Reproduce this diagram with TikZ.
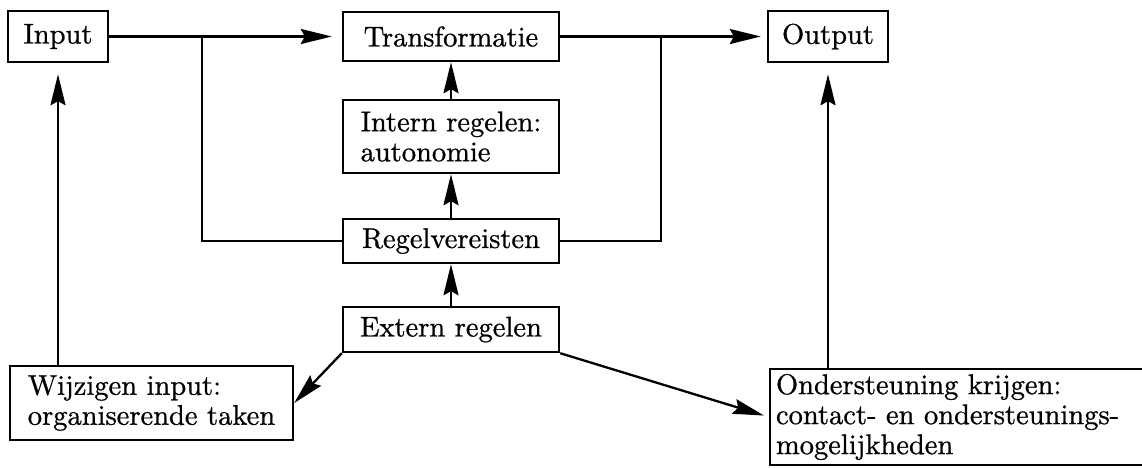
\documentclass[tikz,border=0pt]{standalone}
\usepackage{fontspec}
\setmainfont{lmroman10-regular}[Extension=.otf, FakeBold=0.8]
\usetikzlibrary{arrows.meta,calc}

\begin{document}
\begin{tikzpicture}[x=1pt, y=-1pt,
  arrow/.style={-{Stealth[length=31pt, width=15pt, inset=4pt]}, line width=2.3pt},
  box/.style={draw, line width=2.4pt, inner sep=0pt, align=left, font=\fontsize{28.5}{30}\selectfont},
  wire/.style={line width=2.3pt},
]
\useasboundingbox (0,0) rectangle (1142,467);
\clip (0,0) rectangle (1142,467);

% === TOP ROW ===
\node[box, minimum width=100pt, minimum height=51pt] (in) at (58,36.5) {Input};
\node[box, minimum width=216pt, minimum height=49pt] (tr) at (451,36.5) {Transformatie};
\node[box, minimum width=120pt, minimum height=51pt] (out) at (828,36.5) {Output};

% === MIDDLE COLUMN ===
\node[box, minimum width=216pt, minimum height=73pt] (intern) at (451,136.5) {Intern regelen:\\autonomie};
\node[box, minimum width=216pt, minimum height=44pt] (req) at (451,241) {Regelvereisten};
\node[box, minimum width=216pt, minimum height=45pt] (ext) at (451,329.5) {Extern regelen};

% === BOTTOM ROW ===
\node[box, minimum width=283pt, minimum height=74pt] (wijz) at (151.5,403) {Wijzigen input:\\organiserende taken};
\node[box, text width=370pt, inner xsep=6pt, minimum height=96pt] (onder) at (961,417)
  {Ondersteuning krijgen:\\contact- en ondersteunings-\\mogelijkheden};

\coordinate (jl) at (202,36.5);
\coordinate (jr) at (661,36.5);

\draw[arrow, shorten >=10pt] (in) -- (tr);
\draw[arrow, shorten >=6pt] (tr) -- (out);
\draw[wire] (jl) |- (req.west);
\draw[wire] (jr) |- (req.east);

\draw[arrow] (intern) -- (tr);
\draw[arrow] (req) -- (intern);
\draw[arrow] (ext) -- (req);

\draw[arrow] (ext.south west) -- (wijz.east);
\draw[arrow, shorten >=5pt] (ext.south east) -- (onder.west);
\draw[arrow, shorten >=11pt] (in |- wijz.north) -- (in.south);
\draw[arrow, shorten >=11pt] (out |- onder.north) -- (out.south);
\end{tikzpicture}
\end{document}
